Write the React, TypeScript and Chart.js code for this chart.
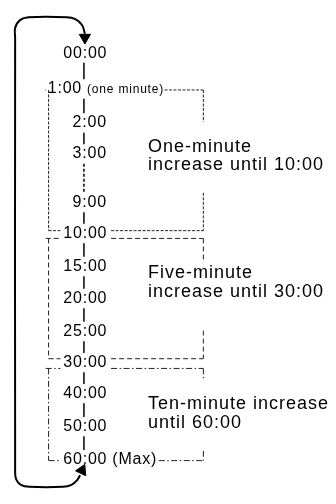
import React, { useEffect, useRef } from "react";
import { Chart, registerables } from "chart.js";

Chart.register(...registerables);

const W = 336;
const H = 504;

// Rows of the timer sequence
const timeLabels = ["00:00", "1:00", "2:00", "3:00", "9:00", "10:00", "15:00", "20:00", "25:00", "30:00", "40:00", "50:00", "60:00"];
const labelNotes = ["", "(one minute)", "", "", "", "", "", "", "", "", "", "", "(Max)"];
const noteSmall = [false, true, false, false, false, false, false, false, false, false, false, false, false];
const rowY = [47, 84, 119, 151, 201, 233, 267, 300, 334, 366, 398, 432, 466];
const colonX = [80, 54, 80, 80, 80, 80, 80, 80, 80, 80, 80, 80, 80];
const dashedLink = [false, false, false, true, false, false, false, false, false, false, false, false];
const spineX = 80;

// Groups (dashed boxes)
const groupTopRow = [1, 5, 9];
const groupBottomRow = [5, 9, 12];
const groupTopY = [85, 238, 372];
const groupBottomY = [230, 362, 467];
const groupRightGapFrom = [118, 263, 382];
const groupRightGapTo = [191, 333, 457];
const groupDash = [[3, 1.5], [5, 3], [6, 2.5, 1.5, 2.5]];
const groupText = [
  ["One-minute", "increase until 10:00"],
  ["Five-minute", "increase until 30:00"],
  ["Ten-minute increase", "until 60:00"],
];
const groupTextY = [[144, 162], [274, 293], [409, 428]];
const groupTextX = 147;
const boxLeft = 43;
const boxRight = 205;

// Return loop and arrow heads
const loopPath = [
  { x: 81, y: 27 }, { x: 78, y: 18 }, { x: 71, y: 12 }, { x: 62, y: 10 },
  { x: 22, y: 10 }, { x: 13, y: 13 }, { x: 8, y: 21 }, { x: 8, y: 31 },
  { x: 8, y: 476 }, { x: 9, y: 486 }, { x: 14, y: 492 }, { x: 23, y: 494 },
  { x: 58, y: 494 }, { x: 67, y: 492 }, { x: 73, y: 487 }, { x: 76, y: 482 },
];
const arrowHeads = [{ x: 81, y: 31 }, { x: 78, y: 477 }];
const arrowRotation = [180, 25];

const FONT = "'Liberation Sans', Arial, Helvetica, sans-serif";
const labelFontSize = 16;
const labelSpacing = 0.8;
const noteFontSize = 12;
const noteSpacing = 0.8;
const groupFontSize = 18;
const groupSpacing = 1;

function font(size: number) {
  return `${size}px ${FONT}`;
}

export default function App() {
  const ref = useRef<HTMLCanvasElement | null>(null);

  useEffect(() => {
    const canvas = ref.current;
    if (!canvas) return;
    const mctx: any = document.createElement("canvas").getContext("2d")!;
    const measure = (t: string, f: string, sp: number) => {
      mctx.font = f;
      mctx.letterSpacing = sp + "px";
      return mctx.measureText(t).width;
    };

    // label extents
    const labelStart: number[] = [];
    const labelEnd: number[] = [];
    const labelWidth: number[] = [];
    timeLabels.forEach((t, i) => {
      const ci = t.indexOf(":");
      const pre = t.slice(0, ci);
      const lf = font(labelFontSize);
      const x0 = colonX[i] - measure(pre, lf, labelSpacing) - measure(":", lf, 0) / 2;
      const w = measure(t, lf, labelSpacing);
      let end = x0 + w;
      if (labelNotes[i]) {
        end += 5 + (noteSmall[i]
          ? measure(labelNotes[i], font(noteFontSize), noteSpacing)
          : measure(labelNotes[i], lf, labelSpacing));
      }
      labelStart.push(x0);
      labelEnd.push(end);
      labelWidth.push(w);
    });

    const datasets: any[] = [];
    const seg = (pts: { x: number; y: number }[], dash: number[], width: number, color = "#111") => {
      datasets.push({
        data: pts,
        showLine: true,
        borderColor: color,
        borderWidth: width,
        borderDash: dash,
        pointRadius: 0,
        tension: 0,
        fill: false,
      });
    };

    // spine connectors
    for (let i = 0; i < timeLabels.length - 1; i++) {
      seg(
        [{ x: spineX, y: rowY[i] + 10 }, { x: spineX, y: rowY[i + 1] - 10 }],
        dashedLink[i] ? [3, 2] : [],
        1.6
      );
    }

    // group boxes
    for (let g = 0; g < groupText.length; g++) {
      const tr = groupTopRow[g];
      const br = groupBottomRow[g];
      const d = groupDash[g];
      const top = groupTopY[g];
      const bot = groupBottomY[g];
      seg([{ x: boxLeft - 3, y: top }, { x: labelStart[tr] - 3, y: top }], d, 1, "#222");
      seg([{ x: labelEnd[tr] + 6, y: top }, { x: boxRight, y: top }], d, 1, "#222");
      seg([{ x: boxRight, y: top }, { x: boxRight, y: groupRightGapFrom[g] }], d, 1, "#222");
      seg([{ x: boxRight, y: groupRightGapTo[g] }, { x: boxRight, y: bot }], d, 1, "#222");
      seg([{ x: boxLeft, y: top }, { x: boxLeft, y: bot }], d, 1, "#222");
      seg([{ x: boxLeft, y: bot }, { x: labelStart[br] - 3, y: bot }], d, 1, "#222");
      seg([{ x: labelEnd[br] + 6, y: bot }, { x: boxRight, y: bot }], d, 1, "#222");
    }

    // return loop
    datasets.push({
      data: loopPath,
      showLine: true,
      borderColor: "#000",
      borderWidth: 2,
      pointRadius: 0,
      tension: 0.4,
      fill: false,
    });
    // arrow heads
    datasets.push({
      data: arrowHeads,
      showLine: false,
      pointStyle: "triangle",
      pointRadius: 6.5,
      pointRotation: arrowRotation,
      backgroundColor: "#000",
      borderColor: "#000",
      borderWidth: 1,
    });

    const textPlugin = {
      id: "diagramText",
      afterDatasetsDraw(chart: any) {
        const ctx = chart.ctx;
        const xs = chart.scales.x;
        const ys = chart.scales.y;
        ctx.save();
        ctx.fillStyle = "#000";
        ctx.textBaseline = "middle";
        ctx.textAlign = "left";
        timeLabels.forEach((t, i) => {
          const px = xs.getPixelForValue(labelStart[i]);
          const py = ys.getPixelForValue(rowY[i]);
          ctx.font = font(labelFontSize);
          ctx.letterSpacing = labelSpacing + "px";
          ctx.fillText(t, px, py);
          if (labelNotes[i]) {
            if (noteSmall[i]) {
              ctx.font = font(noteFontSize);
              ctx.letterSpacing = noteSpacing + "px";
            }
            ctx.fillText(labelNotes[i], px + labelWidth[i] + 5, py + (noteSmall[i] ? 1 : 0));
          }
        });
        ctx.font = font(groupFontSize);
        ctx.letterSpacing = groupSpacing + "px";
        groupText.forEach((lines, g) => {
          lines.forEach((line, k) => {
            ctx.fillText(line, xs.getPixelForValue(groupTextX), ys.getPixelForValue(groupTextY[g][k]));
          });
        });
        ctx.restore();
      },
    };

    const chart = new Chart(canvas, {
      type: "scatter",
      data: { datasets },
      options: {
        responsive: false,
        animation: false,
        layout: { padding: 0 },
        plugins: { legend: { display: false }, tooltip: { enabled: false } },
        scales: {
          x: { type: "linear", min: 0, max: W, display: false },
          y: { type: "linear", min: 0, max: H, reverse: true, display: false },
        },
      },
      plugins: [textPlugin],
    } as any);
    return () => chart.destroy();
  }, []);

  return (
    <div style={{ position: "absolute", left: 0, top: 0, width: W, height: H, background: "#fff" }}>
      <canvas ref={ref} width={W} height={H} style={{ width: W, height: H, display: "block" }} />
    </div>
  );
}
